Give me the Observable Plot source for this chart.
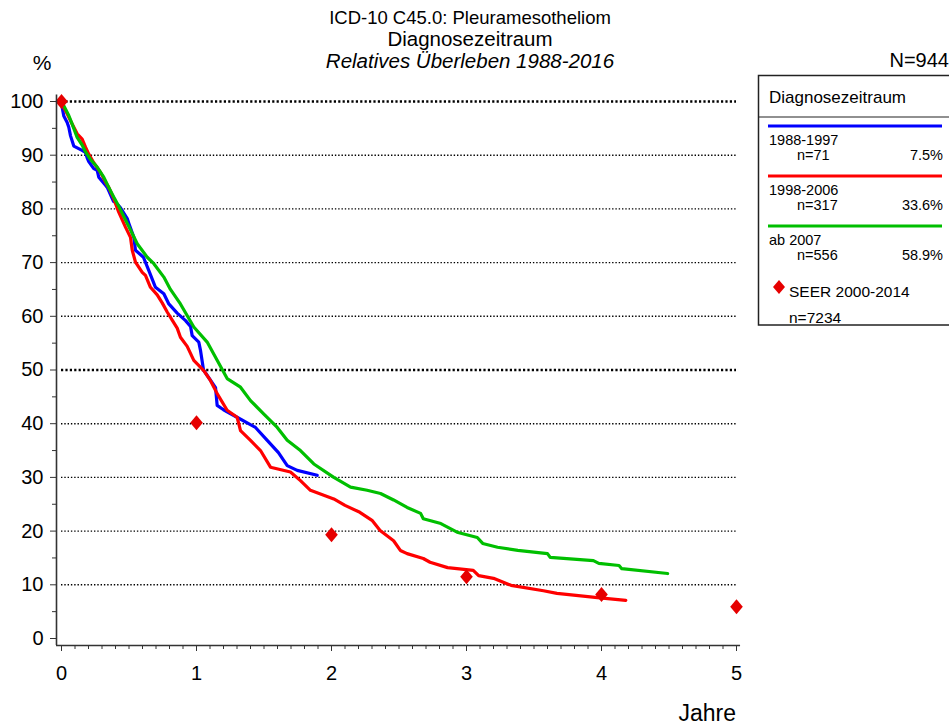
<!DOCTYPE html>
<html><head><meta charset="utf-8">
<script src="https://cdn.jsdelivr.net/npm/d3@7"></script>
<script src="https://cdn.jsdelivr.net/npm/@observablehq/plot@0.6"></script>
<style>
html,body{margin:0;padding:0;background:#fff;overflow:hidden}
#wrap{position:relative;width:949px;height:726px;overflow:hidden;font-family:"Liberation Sans",Arial,sans-serif}
#wrap svg{position:absolute;left:0;top:0}
</style></head><body><div id="wrap"></div>
<script>
// ---- data ----
const xTicks = [0, 1, 2, 3, 4, 5];
const yTicks = [0, 10, 20, 30, 40, 50, 60, 70, 80, 90, 100];
const yMinorTicks = [5, 15, 25, 35, 45, 55, 65, 75, 85, 95];
const gridThin = [10, 20, 30, 40, 60, 70, 80, 90];
const gridBold = [50, 100];

const blueT = [0, 0.005, 0.017, 0.042, 0.054, 0.067, 0.091, 0.153, 0.178, 0.19, 0.202, 0.239, 0.264, 0.276, 0.326, 0.339, 0.385, 0.4, 0.424, 0.437, 0.487, 0.499, 0.536, 0.548, 0.607, 0.647, 0.696, 0.758, 0.795, 0.857, 0.919, 0.956, 0.968, 1.017, 1.03, 1.052, 1.141, 1.153, 1.2, 1.3, 1.437, 1.524, 1.607, 1.672, 1.746, 1.894];
const blueS = [100, 98.9, 97.3, 96.1, 95.2, 93.6, 91.7, 90.9, 90.5, 89.5, 88.8, 87.5, 87.2, 85.9, 84.4, 84, 81.4, 81.2, 80.6, 80.2, 78.2, 77.3, 74.7, 72.3, 71, 68.5, 65.4, 64.2, 62.3, 60.6, 59.2, 58.1, 56.4, 55.2, 53.6, 50, 46.7, 43.4, 42.6, 41.2, 39.3, 36.9, 34.6, 32.2, 31.3, 30.4];

const redT = [0, 0.005, 0.042, 0.079, 0.116, 0.153, 0.178, 0.202, 0.239, 0.289, 0.326, 0.35, 0.387, 0.424, 0.474, 0.511, 0.524, 0.548, 0.598, 0.622, 0.659, 0.709, 0.746, 0.783, 0.82, 0.857, 0.881, 0.931, 0.98, 1.054, 1.104, 1.153, 1.227, 1.301, 1.326, 1.4, 1.474, 1.548, 1.696, 1.77, 1.844, 2.017, 2.1, 2.21, 2.3, 2.36, 2.46, 2.51, 2.56, 2.68, 2.73, 2.86, 3.05, 3.09, 3.2, 3.33, 3.57, 3.67, 3.97, 4.18];
const redS = [100, 99.4, 97.7, 95.8, 94, 93, 91.5, 90.2, 88.6, 86.8, 85, 84, 81.9, 79.4, 76.6, 74.7, 72.3, 70.1, 68.2, 67.6, 65.4, 64, 62.5, 60.8, 59.3, 57.8, 56.1, 54.4, 51.8, 49.9, 48, 45.6, 42.5, 41.2, 38.7, 36.9, 35, 31.9, 31, 29.4, 27.6, 26, 24.8, 23.5, 22, 20.1, 18.2, 16.4, 15.8, 14.9, 14.2, 13.2, 12.7, 11.7, 11.2, 9.9, 8.9, 8.4, 7.6, 7.1];

const greenT = [0, 0.017, 0.054, 0.079, 0.116, 0.153, 0.178, 0.215, 0.264, 0.313, 0.35, 0.387, 0.424, 0.511, 0.561, 0.635, 0.684, 0.758, 0.807, 0.881, 0.98, 1.079, 1.153, 1.227, 1.326, 1.4, 1.499, 1.598, 1.672, 1.77, 1.869, 2.017, 2.141, 2.264, 2.363, 2.46, 2.56, 2.66, 2.68, 2.81, 2.93, 3.08, 3.12, 3.23, 3.38, 3.6, 3.62, 3.94, 3.98, 4.13, 4.15, 4.49];
const greenS = [100, 99.2, 97.4, 95.8, 93.3, 91.9, 90.6, 89.2, 87.8, 85.9, 84, 82.2, 80.5, 76.1, 73.5, 71, 69.8, 67.3, 65, 62.3, 58, 55.2, 51.8, 48.4, 46.8, 44.3, 41.8, 39.3, 36.9, 35, 32.5, 30, 28.2, 27.6, 27, 25.8, 24.4, 23.3, 22.3, 21.4, 19.8, 18.8, 17.7, 17, 16.4, 15.8, 15.1, 14.5, 14, 13.6, 13, 12.1];

const seerT = [0, 1, 2, 3, 4, 5];
const seerS = [100, 40.2, 19.3, 11.5, 8.2, 5.9];

const groups = ["1988-1997", "1998-2006", "ab 2007"];
const groupN = ["n=71", "n=317", "n=556"];
const groupPct = ["7.5%", "33.6%", "58.9%"];
const colors = ["#0000ff", "#ff0000", "#00bf00"];
const seerColor = "#e60000";

// ---- build ----
const toRows = (T, S) => T.map((t, i) => ({t, s: S[i]}));
const blue = toRows(blueT, blueS), red = toRows(redT, redS), green = toRows(greenT, greenS), seer = toRows(seerT, seerS);

const diamond = {draw(ctx, size) { const r = Math.sqrt(size / Math.PI), w = r * 0.84;
  ctx.moveTo(0, -r); ctx.lineTo(w, 0); ctx.lineTo(0, r); ctx.lineTo(-w, 0); ctx.closePath(); }};

const xMinor = d3.range(0, 5.0001, 0.1);
const axisX0 = -5 / 135;      // y-axis line sits slightly left of t=0
const axisY0 = -7 / 5.37;     // x-axis line sits slightly below 0 %
const ff = '"Liberation Sans", Arial, sans-serif';

const chart = Plot.plot({
  width: 949, height: 726,
  marginLeft: 61, marginRight: 213, marginTop: 101, marginBottom: 88,
  x: {domain: [0, 5], label: null},
  y: {domain: [0, 100], label: null},
  style: {fontFamily: ff, color: "#000", background: "transparent", overflow: "visible"},
  marks: [
    Plot.ruleY(gridThin, {x1: 0, x2: 5, stroke: "#000", strokeWidth: 1.4, strokeDasharray: "1.4 1.9"}),
    Plot.ruleY(gridBold, {x1: 0, x2: 5, stroke: "#000", strokeWidth: 2.4, strokeDasharray: "2.2 2.2"}),
    Plot.line(blue, {x: "t", y: "s", stroke: colors[0], strokeWidth: 3.2}),
    Plot.line(red, {x: "t", y: "s", stroke: colors[1], strokeWidth: 3.2}),
    Plot.line(green, {x: "t", y: "s", stroke: colors[2], strokeWidth: 3.2}),
    Plot.dot(seer, {x: "t", y: "s", symbol: diamond, r: 7.5, fill: seerColor, stroke: "none"}),
    Plot.ruleX([axisX0], {y1: axisY0, y2: 101.2, stroke: "#333", strokeWidth: 1.6}),
    Plot.ruleY([axisY0], {x1: axisX0, x2: 5.03, stroke: "#333", strokeWidth: 1.6}),
    Plot.axisY(yTicks, {anchor: "left", tickSize: 6, tickPadding: 7, dx: -5, fontSize: 20, stroke: "#333", label: null, tickFormat: d => String(d)}),
    Plot.axisY(yMinorTicks, {anchor: "left", tickSize: 4, dx: -5, stroke: "#333", label: null, tickFormat: () => ""}),
    Plot.axisX(xTicks, {anchor: "bottom", tickSize: 6, tickPadding: 14, dy: 7, fontSize: 20, stroke: "#333", label: null, tickFormat: d => String(d)}),
    Plot.axisX(xMinor, {anchor: "bottom", tickSize: 4, dy: 7, stroke: "#333", label: null, tickFormat: () => ""})
  ]
});
document.getElementById("wrap").appendChild(chart);

// ---- titles & legend overlay ----
const ov = d3.create("svg").attr("width", 949).attr("height", 726)
  .attr("font-family", ff).style("pointer-events", "none");
const txt = (x, y, s, size, anchor = "start", italic = false) =>
  ov.append("text").attr("x", x).attr("y", y).attr("font-size", size)
    .attr("text-anchor", anchor).attr("dominant-baseline", "central")
    .attr("font-style", italic ? "italic" : "normal").attr("fill", "#000").text(s);

txt(470, 17, "ICD-10 C45.0: Pleuramesotheliom", 18.5, "middle");
txt(470, 38, "Diagnosezeitraum", 20.5, "middle");
txt(470, 60, "Relatives Überleben 1988-2016", 20.5, "middle", true);
txt(42, 62, "%", 21, "middle");
txt(949, 60, "N=944", 20, "end");
txt(736, 713, "Jahre", 23, "end");

ov.append("rect").attr("x", 758.5).attr("y", 75.5).attr("width", 240).attr("height", 249.5)
  .attr("fill", "none").attr("stroke", "#222").attr("stroke-width", 1.5);
ov.append("line").attr("x1", 758).attr("x2", 949).attr("y1", 117).attr("y2", 117).attr("stroke", "#222").attr("stroke-width", 1.2);
txt(769, 97, "Diagnosezeitraum", 17);
groups.forEach((g, i) => {
  const y0 = 126 + i * 50;
  ov.append("line").attr("x1", 768).attr("x2", 942).attr("y1", y0).attr("y2", y0)
    .attr("stroke", colors[i]).attr("stroke-width", 3.2);
  txt(769, y0 + 14, g, 14.5);
  txt(797, y0 + 28.5, groupN[i], 14.5);
  txt(943, y0 + 28.5, groupPct[i], 14.5, "end");
});
ov.append("path").attr("d", "M779,280L785,287L779,294L773,287Z").attr("fill", seerColor);
txt(789, 291, "SEER 2000-2014", 15.5);
txt(789, 317, "n=7234", 15.5);
document.getElementById("wrap").appendChild(ov.node());
</script></body></html>
